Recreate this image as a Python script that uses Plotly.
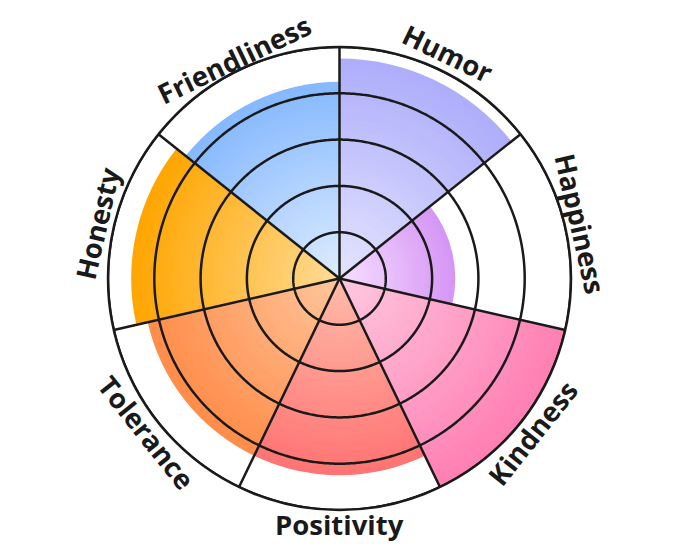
import numpy as np
import plotly.graph_objects as go

# ---- data ----
categories = ["Humor", "Happiness", "Kindness", "Positivity", "Tolerance", "Honesty", "Friendliness"]
values = [4.75, 2.5, 5.0, 4.25, 4.25, 4.5, 4.25]
inner_colors = ["#e4e4ff", "#f7e0ff", "#ffc8e0", "#ffbcaa", "#ffc69c", "#ffdc96", "#deedff"]
outer_colors = ["#adadfb", "#d595f5", "#ff7fb2", "#ff7373", "#ff8c4a", "#ffa500", "#85b8ff"]
ring_values = [1, 2, 3, 4, 5]
r_max = 5

# ---- layout geometry (page body has an 8px margin) ----
W, H = 672, 549
ML, MR, MT, MB = 0, 9, 39, 47
PW, PH = W - ML - MR, H - MT - MB
CX = ML + PW / 2
CY = MT + PH / 2
RADIUS_PX = min(PW, PH) / 2
LABEL_R = RADIUS_PX + 20
FONT_SIZE = 27.5

n = len(categories)
sector = 360 / n
centers = [(i + 0.5) * sector for i in range(n)]


def hex2rgb(h):
    h = h.lstrip("#")
    return [int(h[i:i + 2], 16) for i in (0, 2, 4)]


def mix(c1, c2, t):
    a, b = hex2rgb(c1), hex2rgb(c2)
    return "rgb(%d,%d,%d)" % tuple(round(a[j] + (b[j] - a[j]) * t) for j in range(3))


fig = go.Figure()

# gradient-filled bars: nested wedges, largest first
N = 40
for cat, v, c_in, c_out, th in zip(categories, values, inner_colors, outer_colors, centers):
    rs, cols = [], []
    for k in range(N, 0, -1):
        rs.append(v * k / N)
        cols.append(mix(c_in, c_out, (k - 0.5) / N))
    fig.add_trace(go.Barpolar(
        r=rs, theta=[th] * N, base=[0] * N, width=[sector] * N,
        marker=dict(color=cols, line=dict(width=0)),
        name=cat, hoverinfo="skip", showlegend=False,
    ))

# ring grid lines (drawn above bars)
ring_theta = np.linspace(0, 360, 721)
for rv in ring_values:
    fig.add_trace(go.Scatterpolar(
        r=[rv] * len(ring_theta), theta=ring_theta, mode="lines",
        line=dict(color="#1a1a1a", width=2.5), hoverinfo="skip", showlegend=False,
    ))

# spokes at sector boundaries
sp_r, sp_t = [], []
for i in range(n):
    sp_r += [0, r_max, None]
    sp_t += [i * sector, i * sector, None]
fig.add_trace(go.Scatterpolar(
    r=sp_r, theta=sp_t, mode="lines",
    line=dict(color="#1a1a1a", width=2.5), hoverinfo="skip", showlegend=False,
))

# category labels placed tangentially outside the circle
annotations = []
for cat, a in zip(categories, centers):
    if 90 < a < 270:
        ang = a - 180
    elif a > 270:
        ang = a - 360
    else:
        ang = a
    # straight text approximating an arc: pull centre inward by part of the sagitta
    est_w = len(cat) * 0.47 * FONT_SIZE
    half = (est_w / 2) / LABEL_R
    sag = LABEL_R * (1 - np.cos(half))
    r_lab = LABEL_R - 0.7 * sag
    rad = np.deg2rad(a)
    px = CX + r_lab * np.sin(rad)
    py = CY - r_lab * np.cos(rad)
    annotations.append(dict(
        text=cat, x=(px - ML) / PW, y=1 - (py - MT) / PH,
        xref="paper", yref="paper", xanchor="center", yanchor="middle",
        showarrow=False, textangle=ang, borderpad=0,
        font=dict(family="Open Sans", size=FONT_SIZE, color="#1a1a1a", weight="bold"),
    ))

fig.update_layout(
    width=W, height=H,
    margin=dict(l=ML, r=MR, t=MT, b=MB),
    paper_bgcolor="white",
    showlegend=False,
    annotations=annotations,
    polar=dict(
        bgcolor="white",
        barmode="overlay",
        radialaxis=dict(range=[0, r_max], showticklabels=False, showgrid=False,
                        showline=False, ticks=""),
        angularaxis=dict(rotation=90, direction="clockwise", showticklabels=False,
                         showgrid=False, ticks="", showline=True,
                         linecolor="#1a1a1a", linewidth=2.5),
    ),
)

fig.write_html("out.html")
